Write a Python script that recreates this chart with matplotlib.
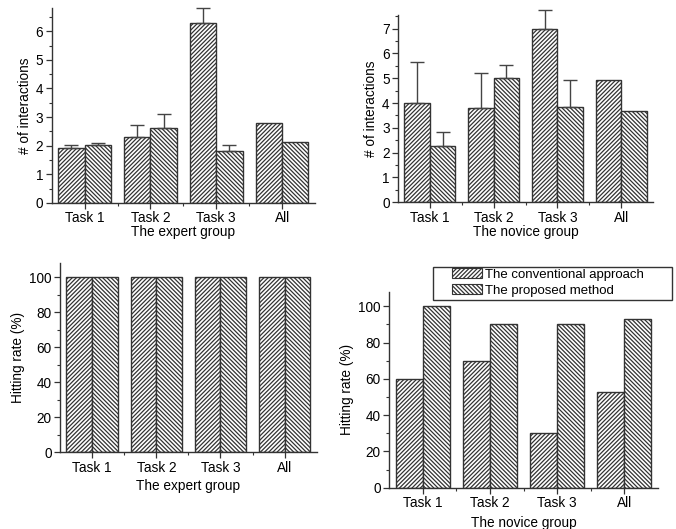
import matplotlib
matplotlib.use("Agg")
import matplotlib.pyplot as plt
import numpy as np
from matplotlib.ticker import MultipleLocator
from matplotlib.patches import Patch, Rectangle

plt.rcParams['font.family'] = ['Liberation Sans', 'DejaVu Sans']
plt.rcParams['hatch.linewidth'] = 0.9
plt.rcParams['hatch.color'] = '#222222'

categories = ["Task 1", "Task 2", "Task 3", "All"]
series_names = ["The conventional approach", "The proposed method"]

# Expert group - # of interactions
exp_int_conv = [1.92, 2.31, 6.30, 2.81]
exp_int_conv_err = [0.12, 0.40, 0.50, np.nan]
exp_int_prop = [2.01, 2.62, 1.80, 2.13]
exp_int_prop_err = [0.10, 0.50, 0.23, np.nan]

# Novice group - # of interactions
nov_int_conv = [4.00, 3.82, 7.00, 4.95]
nov_int_conv_err = [1.67, 1.39, 0.77, np.nan]
nov_int_prop = [2.27, 5.00, 3.85, 3.70]
nov_int_prop_err = [0.55, 0.55, 1.10, np.nan]

# Hitting rate (%)
exp_hit_conv = [100, 100, 100, 100]
exp_hit_prop = [100, 100, 100, 100]
nov_hit_conv = [60, 70, 30, 53]
nov_hit_prop = [100, 90, 90, 93]

W, H = 676, 529
fig = plt.figure(figsize=(W / 100, H / 100), dpi=100)

def rect(l, t, r, b):
    return [l / W, 1 - b / H, (r - l) / W, (b - t) / H]

FS = 9.8
HATCHES = ['////////', '\\\\\\\\\\\\\\\\']
EDGE = '#333333'

def panel(pos, conv, prop, conv_err, prop_err, ylim, major, minor, ylabel, xlabel, labelpad):
    ax = fig.add_axes(pos)
    x = np.arange(len(categories))
    w = 0.40
    for vals, errs, off, h in ((conv, conv_err, -w / 2, HATCHES[0]), (prop, prop_err, w / 2, HATCHES[1])):
        ax.bar(x + off, vals, width=w, color='white', edgecolor=EDGE, linewidth=1.0, hatch=h, zorder=2)
        if errs is not None:
            e = np.array(errs, dtype=float)
            m = ~np.isnan(e)
            eb = ax.errorbar((x + off)[m], np.array(vals)[m], yerr=[np.zeros(m.sum()), e[m]],
                             fmt='none', ecolor='#444444', elinewidth=1.0, capsize=5.2, capthick=1.0, zorder=3)
            for art in list(eb.lines[1]) + list(eb.lines[2]):
                art.set_clip_on(False)
    ax.set_xlim(-0.5, 3.5)
    ax.set_ylim(*ylim)
    ax.set_xticks(x)
    ax.set_xticklabels(categories, fontsize=FS)
    ax.set_xticks(x[:-1] + 0.5, minor=True)
    ax.yaxis.set_major_locator(MultipleLocator(major))
    ax.yaxis.set_minor_locator(MultipleLocator(minor))
    ax.tick_params(axis='both', which='major', direction='out', length=4, width=0.9, labelsize=FS, pad=2, color='#333333')
    ax.tick_params(axis='both', which='minor', direction='out', length=2.5, width=0.8, color='#333333')
    ax.spines['top'].set_visible(False)
    ax.spines['right'].set_visible(False)
    for s in ('left', 'bottom'):
        ax.spines[s].set_linewidth(1.0)
        ax.spines[s].set_color('#333333')
    ax.set_ylabel(ylabel, fontsize=FS, labelpad=3)
    ax.set_xlabel(xlabel, fontsize=FS, labelpad=labelpad)
    return ax

panel(rect(51.7, 8.3, 315, 203), exp_int_conv, exp_int_prop, exp_int_conv_err, exp_int_prop_err,
      (0, 6.8), 1, 0.5, "# of interactions", "The expert group", 0)
panel(rect(398, 15, 653, 202.3), nov_int_conv, nov_int_prop, nov_int_conv_err, nov_int_prop_err,
      (0, 7.55), 1, 0.5, "# of interactions", "The novice group", 0)
panel(rect(60, 263.3, 316.7, 452.3), exp_hit_conv, exp_hit_prop, None, None,
      (0, 108), 20, 10, "Hitting rate (%)", "The expert group", 3)
panel(rect(389, 291.7, 658, 487.7), nov_hit_conv, nov_hit_prop, None, None,
      (0, 108), 20, 10, "Hitting rate (%)", "The novice group", 4)

# legend frame (drawn separately so the entries can sit inset from its left edge)
fl, ft, fr, fb = 433, 266.5, 671.5, 299.5
fig.patches.append(Rectangle((fl / W, 1 - fb / H), (fr - fl) / W, (fb - ft) / H,
                             transform=fig.transFigure, facecolor='white', edgecolor='#333333',
                             linewidth=1.0, zorder=5))
handles = [Patch(facecolor='white', edgecolor=EDGE, hatch=HATCHES[0], linewidth=0.8),
           Patch(facecolor='white', edgecolor=EDGE, hatch=HATCHES[1], linewidth=0.8)]
leg = fig.legend(handles, series_names, loc='upper left',
                 bbox_to_anchor=(451.5 / W, 1 - (ft + 1.5) / H),
                 fontsize=9.5, frameon=False,
                 handlelength=2.3, handleheight=0.8, handletextpad=0.25, borderpad=0,
                 labelspacing=0.28, borderaxespad=0)
leg.set_zorder(6)

fig.savefig("out.png", dpi=100)
